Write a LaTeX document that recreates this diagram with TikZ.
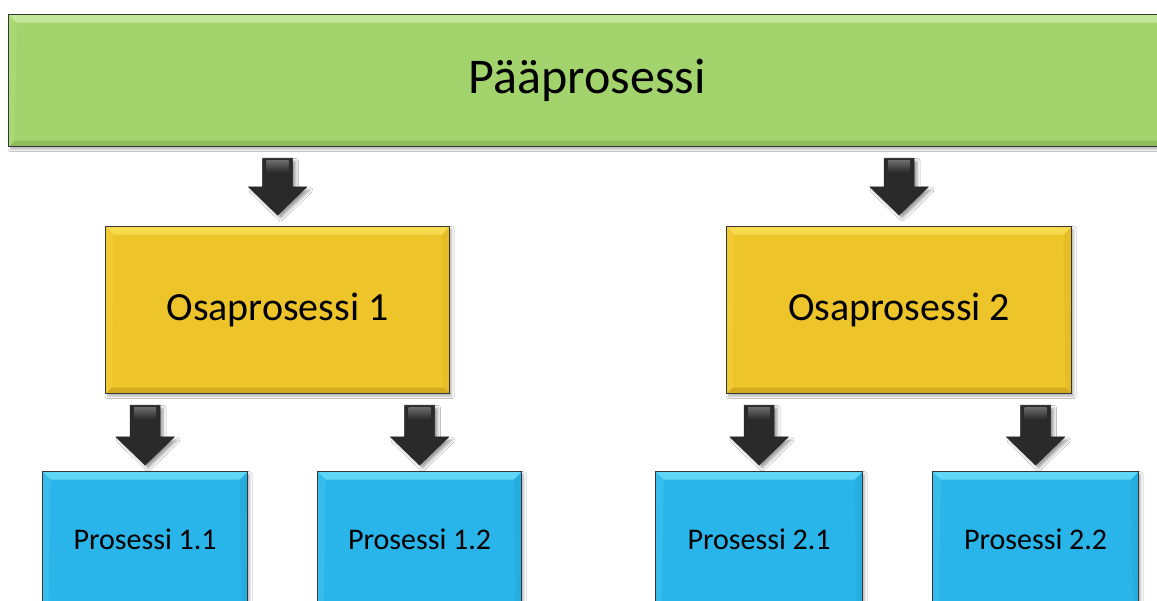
\documentclass[tikz,border=0pt]{standalone}
\usepackage{fontspec}
\setmainfont{Carlito}
\usetikzlibrary{calc,shadows.blur}

% fills and bevel tones
\definecolor{edge}{HTML}{363636}
\definecolor{grn}{HTML}{A3D36C}
\definecolor{grnhi}{HTML}{C4E89A}
\definecolor{grnlo}{HTML}{8EBE5C}
\definecolor{ylw}{HTML}{EEC42B}
\definecolor{ylwhi}{HTML}{F7DA4E}
\definecolor{ylwlo}{HTML}{D4AA20}
\definecolor{blu}{HTML}{29B5E9}
\definecolor{bluhi}{HTML}{5FD6F5}
\definecolor{blulo}{HTML}{229DCD}
\definecolor{arrowfill}{HTML}{2A2A2A}

\tikzset{
  box/.style n args={3}{
    draw=edge, line width=1.3pt, fill=#1, inner sep=0pt, anchor=north west,
    blur shadow={shadow xshift=2pt, shadow yshift=-2.5pt,
                 shadow blur radius=2.5pt, shadow opacity=30},
    path picture={
      \path (path picture bounding box.north west) coordinate (bvnw)
            (path picture bounding box.north east) coordinate (bvne)
            (path picture bounding box.south west) coordinate (bvsw)
            (path picture bounding box.south east) coordinate (bvse);
      \fill[#2] (bvnw) -- (bvne) -- ([shift={(-8pt,-8pt)}]bvne)
                -- ([shift={(8pt,-8pt)}]bvnw) -- cycle;
      \fill[#3] (bvsw) -- (bvse) -- ([shift={(-6pt,6pt)}]bvse)
                -- ([shift={(6pt,6pt)}]bvsw) -- cycle;
      \fill[#2, opacity=.25] (bvnw) -- ([shift={(8pt,-8pt)}]bvnw)
                -- ([shift={(6pt,6pt)}]bvsw) -- (bvsw) -- cycle;
      \fill[#3, opacity=.3] (bvne) -- ([shift={(-8pt,-8pt)}]bvne)
                -- ([shift={(-6pt,6pt)}]bvse) -- (bvse) -- cycle;
    }},
  mainbox/.style={box={grn}{grnhi}{grnlo}, font=\fontsize{50}{58}\selectfont},
  subbox/.style={box={ylw}{ylwhi}{ylwlo}, font=\fontsize{40}{48}\selectfont},
  leafbox/.style={box={blu}{bluhi}{blulo}, font=\fontsize{30}{36}\selectfont},
  arrowbody/.style={fill=arrowfill, draw=black!85, line width=.6pt,
    blur shadow={shadow xshift=3pt, shadow yshift=-3pt,
                 shadow blur radius=3pt, shadow opacity=40}},
}

% block arrow from the bottom of #2 down to the top of #3; #1 = gap above #3
\newcommand\flowarrow[3][11pt]{%
  \path let \p1=(#3.north), \p2=(#2.south) in
    coordinate (fatop) at (\x1,\y2-11pt)
    coordinate (fatip) at (\x1,\y1+#1);
  \filldraw[arrowbody]
    ([xshift=-15pt]fatop) -- ([xshift=15pt]fatop)
    -- ([xshift=15pt,yshift=28pt]fatip) -- ([xshift=29pt,yshift=28pt]fatip)
    -- (fatip)
    -- ([xshift=-29pt,yshift=28pt]fatip) -- ([xshift=-15pt,yshift=28pt]fatip)
    -- cycle;
  \shade[top color=black!58, bottom color=arrowfill]
    ([xshift=-11pt,yshift=-2pt]fatop) rectangle ([xshift=11pt,yshift=-14pt]fatop);
}

\begin{document}
\begin{tikzpicture}[x=1pt,y=-1pt]
\useasboundingbox[fill=white] (0,0) rectangle (1157,601);

% main process
\node[mainbox, minimum width=1157pt, minimum height=132pt] (main) at (8,14) {Pääprosessi};

% sub-processes
\node[subbox, minimum width=344pt, minimum height=167pt] (sub1) at (105,226) {Osaprosessi 1};
\node[subbox, minimum width=345pt, minimum height=167pt] (sub2) at (726,226) {Osaprosessi 2};

% processes
\node[leafbox, minimum width=205pt, minimum height=136pt] (p11) at (42,471)  {Prosessi 1.1};
\node[leafbox, minimum width=204pt, minimum height=136pt] (p12) at (317,471) {Prosessi 1.2};
\node[leafbox, minimum width=207pt, minimum height=136pt] (p21) at (655,471) {Prosessi 2.1};
\node[leafbox, minimum width=206pt, minimum height=136pt] (p22) at (932,471) {Prosessi 2.2};

% arrows
\flowarrow{main}{sub1}
\flowarrow{main}{sub2}
\flowarrow[6pt]{sub1}{p11}
\flowarrow[6pt]{sub1}{p12}
\flowarrow[6pt]{sub2}{p21}
\flowarrow[6pt]{sub2}{p22}
\end{tikzpicture}
\end{document}
